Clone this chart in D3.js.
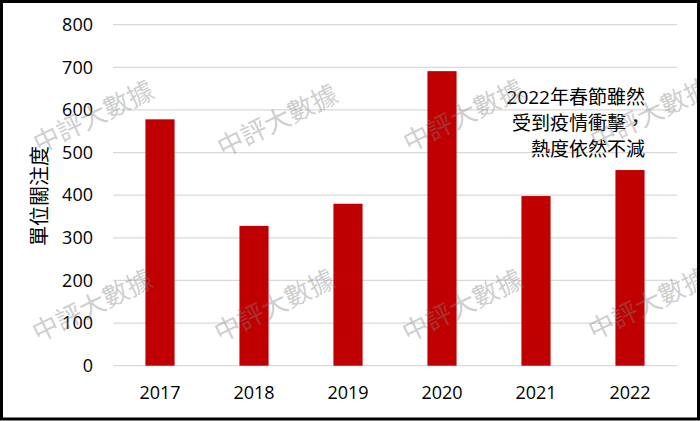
<!DOCTYPE html>
<html>
<head>
<meta charset="utf-8">
<script src="https://cdn.jsdelivr.net/npm/d3@7"></script>
<style>
  html, body { margin: 0; padding: 0; background: #fff; }
  svg { display: block; }
</style>
</head>
<body>
<svg id="chart" width="700" height="421"></svg>
<script>
const categories = ["2017", "2018", "2019", "2020", "2021", "2022"];
const values = [578, 328, 380, 691, 398, 459];
const yTicks = [0, 100, 200, 300, 400, 500, 600, 700, 800];
const yTitle = "單位關注度";
const noteLines = ["2022年春節雖然", "受到疫情衝擊，", "熱度依然不減"];
const watermarkText = "中評大數據";
const watermarkSpots = [[93,116],[277,120],[463,115],[650,113],[92,305],[274,305],[462,305],[648,303]];

(function () {
const svg = d3.select("#chart");
const W = 700, H = 421;
const font = "'Open Sans', 'Noto Sans CJK TC', sans-serif";

svg.append("rect").attr("x", 0).attr("y", 0).attr("width", W).attr("height", H).attr("fill", "#fff");

const pLeft = 113, pRight = 677, pTop = 24.7, pBottom = 365.7;
const x = d3.scaleBand().domain(categories).range([pLeft, pRight]).paddingInner(0.69).paddingOuter(0.345);
const y = d3.scaleLinear().domain([0, 800]).range([pBottom, pTop]);

// gridlines
svg.append("g").selectAll("line").data(yTicks).join("line")
  .attr("x1", pLeft).attr("x2", pRight)
  .attr("y1", d => y(d)).attr("y2", d => y(d))
  .attr("stroke", "#d9d9d9").attr("stroke-width", 1.3);

// y axis labels
const yAxis = d3.axisLeft(y).tickValues(yTicks).tickSize(0).tickPadding(0);
const gy = svg.append("g").attr("transform", `translate(93,0)`).call(yAxis);
gy.select(".domain").remove();
gy.selectAll("text").attr("font-family", font).attr("font-size", 18).attr("fill", "#000");

// x axis labels
const xAxis = d3.axisBottom(x).tickSize(0).tickPadding(0);
const gx = svg.append("g").attr("transform", `translate(0,386)`).call(xAxis);
gx.select(".domain").remove();
gx.selectAll("text").attr("font-family", font).attr("font-size", 18).attr("fill", "#000");

// bars
svg.append("g").selectAll("rect").data(values).join("rect")
  .attr("x", (d, i) => x(categories[i]))
  .attr("width", x.bandwidth())
  .attr("y", d => y(d))
  .attr("height", d => y(0) - y(d))
  .attr("fill", "#c00000");

// y title
svg.append("text")
  .attr("transform", "translate(47,196) rotate(-90)")
  .attr("text-anchor", "middle")
  .attr("font-family", font).attr("font-size", 20).attr("fill", "#000")
  .text(yTitle);

// annotation
svg.append("g").selectAll("text").data(noteLines).join("text")
  .attr("x", 645).attr("y", (d, i) => 104 + i * 26)
  .attr("text-anchor", "end")
  .attr("font-family", font).attr("font-size", 19).attr("fill", "#000")
  .text(d => d);

// watermarks
svg.append("g").selectAll("text").data(watermarkSpots).join("text")
  .attr("transform", d => `translate(${d[0]},${d[1]}) rotate(-26)`)
  .attr("text-anchor", "middle").attr("dominant-baseline", "central")
  .attr("font-family", font).attr("font-size", 26)
  .attr("fill", "#808080").attr("fill-opacity", 0.4)
  .text(watermarkText);

// border
svg.append("rect").attr("x", 1.5).attr("y", 1.5).attr("width", W - 3).attr("height", H - 3.5)
  .attr("fill", "none").attr("stroke", "#000").attr("stroke-width", 3);
})();
</script>
</body>
</html>
